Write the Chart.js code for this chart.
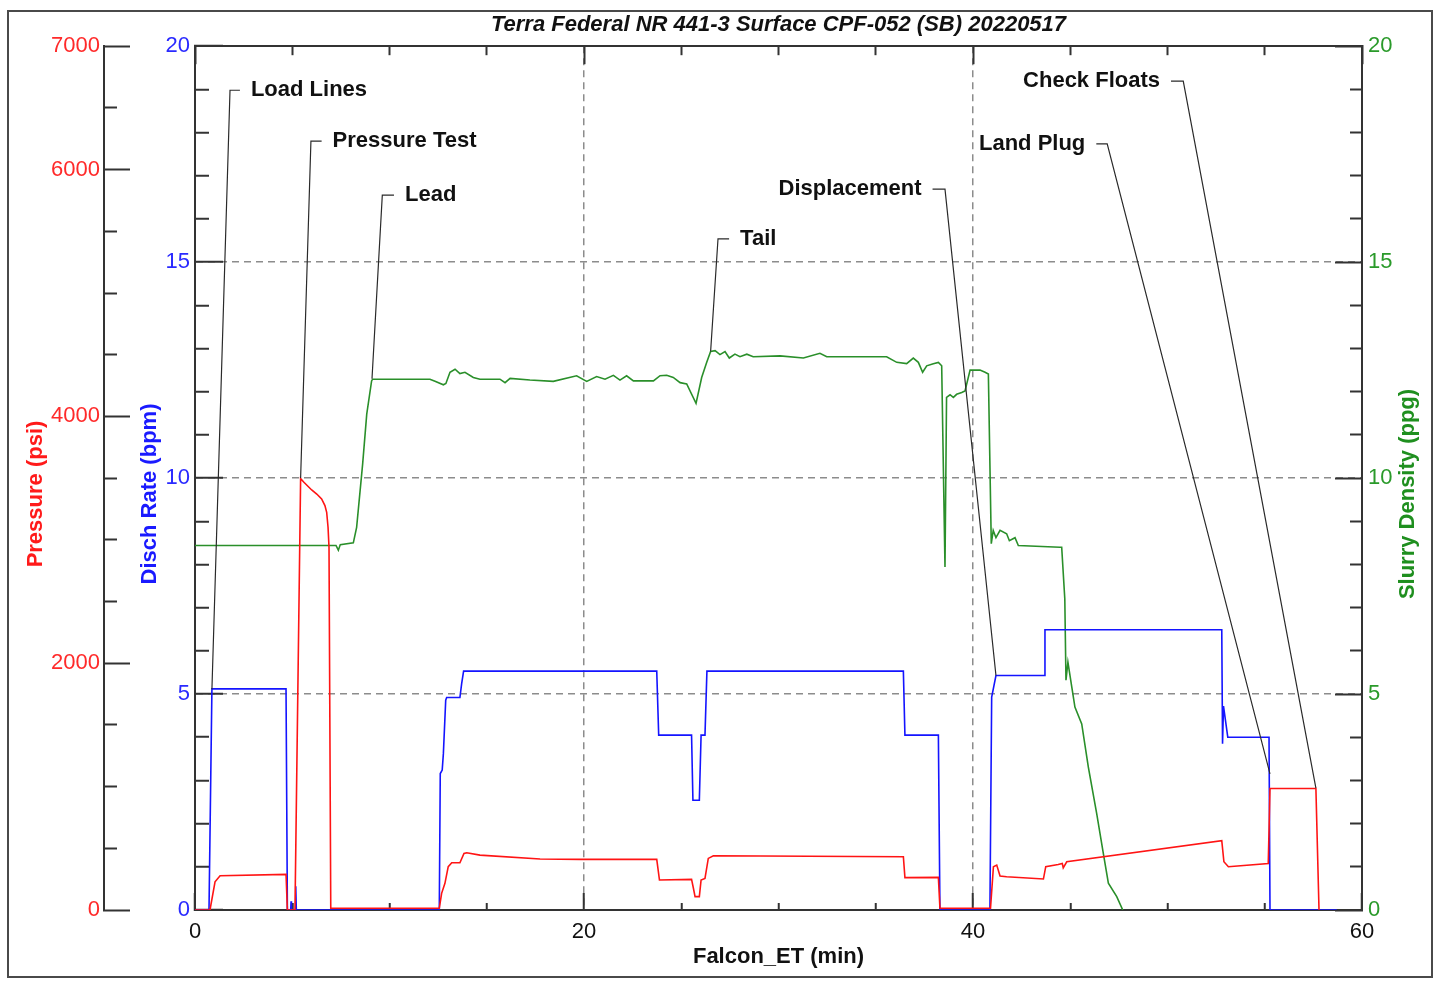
<!DOCTYPE html>
<html>
<head>
<meta charset="utf-8">
<title>Terra Federal NR 441-3 Surface CPF-052 (SB) 20220517</title>
<script src="https://cdn.jsdelivr.net/npm/chart.js"></script>
<style>
    body { margin: 0; background: #fff; }
    #wrap { position: absolute; left: 0; top: 0; width: 1439px; height: 982px; }
    #frame { position: absolute; left: 7px; top: 10px; width: 1426px; height: 968px; border: 2px solid #4a4a4a; box-sizing: border-box; pointer-events: none; }
</style>
</head>
<body>
<div id="wrap"><canvas id="jobChart"></canvas></div>
<div id="frame"></div>
<script>
// time in minutes
const rateT = [0, 0.72, 0.87, 4.68, 4.75, 4.92, 4.94, 4.96, 5.15, 5.18, 5.21, 12.56, 12.61, 12.71, 12.77, 12.89, 12.94, 13.62, 13.71, 13.81, 23.74, 23.84, 25.53, 25.6, 25.93, 26.02, 26.22, 26.32, 36.42, 36.5, 38.22, 38.3, 40.87, 40.96, 41.18, 43.67, 43.7, 52.79, 52.83, 52.88, 53.1, 55.22, 55.27, 58.7];
const rateV = [0, 0, 5.12, 5.12, 0, 0, 0.2, 0, 0, 0.55, 0, 0, 3.16, 3.24, 3.62, 4.86, 4.92, 4.92, 5.24, 5.53, 5.53, 4.05, 4.05, 2.54, 2.54, 4.05, 4.05, 5.53, 5.53, 4.05, 4.05, 0, 0, 4.93, 5.43, 5.43, 6.49, 6.49, 3.85, 4.72, 4.0, 4.0, 0, 0];

const pressT = [0, 0.77, 1.03, 1.29, 4.68, 4.75, 5.14, 5.43, 5.6, 6.0, 6.26, 6.51, 6.68, 6.77, 6.84, 6.89, 6.98, 12.56, 12.68, 12.85, 13.02, 13.2, 13.62, 13.83, 13.97, 14.65, 17.74, 19.79, 23.74, 23.88, 25.53, 25.62, 25.71, 25.93, 26.02, 26.22, 26.39, 26.65, 36.42, 36.5, 38.22, 38.3, 40.9, 41.05, 41.22, 41.39, 41.73, 43.62, 43.74, 44.38, 44.59, 44.64, 44.82, 52.79, 52.9, 53.13, 55.18, 55.27, 57.63, 57.79];
const pressV = [0, 0, 229, 278, 289, 0, 0, 3496, 3466, 3404, 3371, 3331, 3277, 3223, 3102, 2940, 14, 14, 135, 216, 351, 383, 383, 458, 464, 445, 413, 410, 410, 243, 248, 180, 108, 108, 243, 256, 418, 440, 431, 262, 264, 14, 14, 351, 364, 275, 270, 251, 351, 369, 377, 342, 391, 561, 391, 351, 377, 985, 985, 0];

const densT = [0, 7.25, 7.37, 7.47, 8.14, 8.31, 8.62, 8.83, 9.08, 9.13,
    12.08, 12.34, 12.77, 12.9, 13.11, 13.37, 13.62, 13.88, 14.31, 14.65,
    15.68, 15.94, 16.2, 17.22, 18.42, 19.62, 20.14, 20.65, 21.08, 21.51,
    21.85, 22.19, 22.54, 23.57, 23.91, 24.25, 24.59, 24.94, 25.28, 25.76,
    26.05, 26.31, 26.51, 26.74, 26.99, 27.25, 27.47, 27.76, 28.02, 28.37,
    28.7, 30.08, 31.28, 32.13, 32.48, 34.02, 35.56, 36.08, 36.59, 36.93,
    37.19, 37.41, 37.62, 37.96, 38.22, 38.39, 38.56, 38.64, 38.82, 38.99,
    39.16, 39.42, 39.59, 39.85, 40.36, 40.62, 40.79, 40.94, 41.04, 41.18,
    41.39, 41.73, 41.87, 42.16, 42.33, 44.47, 44.56, 44.72, 44.78, 44.88,
    45.08, 45.24, 45.59, 45.93, 46.36, 46.7, 46.96, 47.39, 47.7];
const densV = [8.44, 8.44, 8.33, 8.46, 8.5, 8.86, 10.33, 11.48, 12.25, 12.29,
    12.29, 12.24, 12.16, 12.19, 12.45, 12.52, 12.42, 12.45, 12.33, 12.29,
    12.29, 12.21, 12.31, 12.27, 12.24, 12.37, 12.24, 12.35, 12.29, 12.38,
    12.27, 12.37, 12.25, 12.25, 12.37, 12.38, 12.33, 12.21, 12.18, 11.73,
    12.33, 12.68, 12.93, 12.95, 12.86, 12.93, 12.78, 12.87, 12.81, 12.87,
    12.81, 12.83, 12.78, 12.89, 12.81, 12.81, 12.81, 12.68, 12.65, 12.78,
    12.68, 12.45, 12.6, 12.65, 12.68, 12.6, 7.94, 11.87, 11.93, 11.87,
    11.94, 11.98, 12.02, 12.5, 12.5, 12.45, 12.41, 8.48, 8.79, 8.62,
    8.79, 8.71, 8.55, 8.62, 8.44, 8.4, 8.4, 7.2, 5.32, 5.74,
    5.16, 4.7, 4.31, 3.31, 2.23, 1.31, 0.62, 0.31, 0];

// event callouts (x in min, y on the disch rate scale)
const noteText = ['Load Lines', 'Pressure Test', 'Lead', 'Tail', 'Displacement', 'Land Plug', 'Check Floats'];
const noteY = [18.98, 17.8, 16.55, 15.54, 16.69, 17.74, 19.19];
const noteElbowX = [1.8, 5.96, 9.63, 26.89, 38.56, 46.9, 50.81];
const noteStubX = [2.31, 6.51, 10.23, 27.46, 37.92, 46.34, 50.18];
const noteTipX = [0.87, 5.43, 9.1, 26.51, 41.18, 55.27, 57.63];
const noteTipY = [5.11, 10.0, 12.3, 12.93, 5.43, 3.15, 2.82];

const AXIS = '#333333';
const GRID = '#8c8c8c';
const CLEAR = 'rgba(0,0,0,0)';

Chart.defaults.font.family = '"Liberation Sans", Arial, sans-serif';
Chart.defaults.font.size = 22;

function zip(xs, ys) {
    return xs.map((x, i) => ({ x: x, y: ys[i] }));
}

function isMajor(value, step) {
    return Math.abs(value / step - Math.round(value / step)) < 1e-6;
}

// inward tick marks: long on majors, short on minors (short ones are a dash of the long line)
function innerTicks(len, shortLen, majorTest, startsAtBorder) {
    return {
        tickLength: -len,
        tickWidth: 2,
        tickColor: AXIS,
        tickBorderDash: c => (c.tick && majorTest(c.tick.value)) ? [] : [shortLen, 2000],
        tickBorderDashOffset: c => (startsAtBorder || (c.tick && majorTest(c.tick.value))) ? 0 : 2000 + 2 * shortLen - len
    };
}

const dashedGrid = { color: AXIS, width: 2, dash: c => c.tick ? [7, 5] : [] };

const overlayPlugin = {
    id: 'overlay',
    afterDatasetsDraw(chart) {
        const ctx = chart.ctx;
        const sx = chart.scales.x;
        const sy = chart.scales.y;
        ctx.save();
        ctx.font = 'bold 22px "Liberation Sans", Arial, sans-serif';
        ctx.fillStyle = '#111';
        ctx.textBaseline = 'middle';
        noteText.forEach((t, i) => {
            const toRight = noteStubX[i] > noteElbowX[i];
            ctx.textAlign = toRight ? 'left' : 'right';
            const px = sx.getPixelForValue(noteStubX[i]) + (toRight ? 11 : -11);
            ctx.fillText(t, px, sy.getPixelForValue(noteY[i]));
        });
        ctx.restore();
    },
    afterDraw(chart) {
        // rotated axis titles, centred on the framed figure
        const ctx = chart.ctx;
        const cy = chart.height / 2 + 3;
        const titles = [
            { text: 'Pressure (psi)', x: chart.scales.yP.left + 36, color: '#ff1a1a' },
            { text: 'Disch Rate (bpm)', x: chart.scales.y.left + 46, color: '#1a1aff' },
            { text: 'Slurry Density (ppg)', x: chart.scales.yR.right - 31, color: '#1f8f1f' }
        ];
        ctx.save();
        ctx.font = 'bold 22px "Liberation Sans", Arial, sans-serif';
        ctx.textAlign = 'center';
        ctx.textBaseline = 'middle';
        titles.forEach(t => {
            ctx.save();
            ctx.translate(t.x, cy);
            ctx.rotate(-Math.PI / 2);
            ctx.fillStyle = t.color;
            ctx.fillText(t.text, 0, 0);
            ctx.restore();
        });
        ctx.restore();
    }
};

const seriesStyle = { pointRadius: 0, borderWidth: 1.6, tension: 0, fill: false, xAxisID: 'x' };

const datasets = [
    Object.assign({ label: 'Pressure', data: zip(pressT, pressV), yAxisID: 'yP', borderColor: '#ff1414' }, seriesStyle),
    Object.assign({ label: 'Disch Rate', data: zip(rateT, rateV), yAxisID: 'y', borderColor: '#1414ff' }, seriesStyle),
    Object.assign({ label: 'Slurry Density', data: zip(densT, densV), yAxisID: 'yR', borderColor: '#2a8f2a' }, seriesStyle)
];
noteText.forEach((t, i) => {
    datasets.push({
        label: t,
        data: [
            { x: noteStubX[i], y: noteY[i] },
            { x: noteElbowX[i], y: noteY[i] },
            { x: noteTipX[i], y: noteTipY[i] }
        ],
        xAxisID: 'x',
        yAxisID: 'y',
        borderColor: '#2a2a2a',
        borderWidth: 1.2,
        pointRadius: 0,
        tension: 0,
        order: -1
    });
});

new Chart(document.getElementById('jobChart'), {
    type: 'line',
    data: { datasets: datasets },
    options: {
        responsive: true,
        maintainAspectRatio: false,
        animation: false,
        layout: { padding: { left: 0, right: 0, top: 10, bottom: 0 } },
        plugins: {
            legend: { display: false },
            tooltip: { enabled: false },
            title: {
                display: true,
                fullSize: false,
                text: 'Terra Federal NR 441-3 Surface CPF-052 (SB) 20220517',
                color: '#111',
                font: { size: 22, weight: 'bold', style: 'italic' },
                padding: { top: 1, bottom: 7.6 }
            }
        },
        scales: {
            x: {
                type: 'linear',
                position: 'bottom',
                min: 0,
                max: 60,
                afterFit: s => { s.height = 72; },
                ticks: {
                    stepSize: 5, autoSkip: false, maxRotation: 0, padding: 26, color: '#111',
                    callback: v => isMajor(v, 20) ? v : ''
                },
                grid: Object.assign({
                    lineWidth: 1.5,
                    color: c => (c.tick && (c.tick.value === 20 || c.tick.value === 40)) ? GRID : CLEAR
                }, innerTicks(17, 8, v => isMajor(v, 20), true)),
                border: dashedGrid,
                title: {
                    display: true, text: 'Falcon_ET (min)', color: '#111',
                    font: { size: 22, weight: 'bold' }, padding: { top: 0, bottom: 12 }
                }
            },
            xTop: {
                type: 'linear',
                position: 'top',
                min: 0,
                max: 60,
                afterFit: s => { s.height = 0; },
                ticks: { display: false, stepSize: 5, autoSkip: false },
                grid: Object.assign({ drawOnChartArea: false }, innerTicks(18, 9, v => isMajor(v, 20), false)),
                border: { color: AXIS, width: 2 }
            },
            yP: {
                type: 'linear',
                position: 'left',
                weight: 1,
                min: 0,
                max: 7000,
                afterFit: s => { s.width = 104; },
                ticks: {
                    stepSize: 500, autoSkip: false, padding: 30, color: '#ff2a2a',
                    callback: v => (isMajor(v, 2000) || v === 7000) ? v : ''
                },
                grid: Object.assign({ drawOnChartArea: false },
                    innerTicks(26, 13, v => isMajor(v, 2000) || v === 7000, false)),
                border: { color: AXIS, width: 2 }
            },
            y: {
                type: 'linear',
                position: 'left',
                weight: 0,
                min: 0,
                max: 20,
                afterFit: s => { s.width = 91; },
                ticks: {
                    stepSize: 1, autoSkip: false, padding: 33, color: '#2a2aff',
                    callback: v => isMajor(v, 5) ? v : ''
                },
                grid: Object.assign({
                    lineWidth: 1.5,
                    color: c => (c.tick && c.tick.value > 0 && c.tick.value < 20 && isMajor(c.tick.value, 5)) ? GRID : CLEAR
                }, innerTicks(28, 14, v => isMajor(v, 5), false)),
                border: dashedGrid
            },
            yR: {
                type: 'linear',
                position: 'right',
                min: 0,
                max: 20,
                afterFit: s => { s.width = 77; },
                ticks: {
                    stepSize: 1, autoSkip: false, padding: 33, color: '#2a9a2a',
                    callback: v => isMajor(v, 5) ? v : ''
                },
                grid: Object.assign({ drawOnChartArea: false }, innerTicks(27, 13, v => isMajor(v, 5), true)),
                border: { color: AXIS, width: 2 }
            }
        }
    },
    plugins: [overlayPlugin]
});
</script>
</body>
</html>
